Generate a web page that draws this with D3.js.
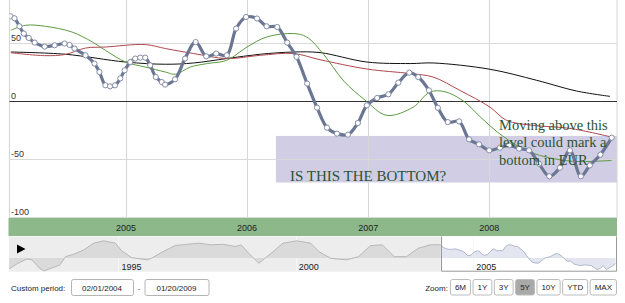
<!DOCTYPE html>
<html><head><meta charset="utf-8">
<script src="https://cdn.jsdelivr.net/npm/d3@7"></script>
<style>html,body{margin:0;padding:0;background:#fff;} svg{display:block;}</style>
</head><body>
<svg id="chart" width="625" height="303"></svg>
<script>
// ---------- DATA ----------
const mainDates = ["2004-01-19","2004-01-31","2004-02-15","2004-02-28","2004-03-14","2004-04-01","2004-05-01","2004-05-31","2004-06-30","2004-07-15","2004-07-30","2004-09-01","2004-09-28","2004-10-13","2004-10-31","2004-11-14","2004-11-29","2004-12-15","2004-12-28","2005-01-14","2005-01-29","2005-02-13","2005-02-28","2005-03-15","2005-04-01","2005-04-19","2005-04-29","2005-05-29","2005-06-28","2005-07-30","2005-08-31","2005-09-30","2005-11-01","2005-11-29","2005-12-29","2006-01-31","2006-03-01","2006-04-02","2006-05-02","2006-05-30","2006-07-01","2006-07-31","2006-08-30","2006-09-29","2006-11-01","2006-12-01","2006-12-28","2007-01-28","2007-03-03","2007-04-02","2007-05-05","2007-06-01","2007-07-03","2007-07-30","2007-08-29","2007-10-02","2007-11-01","2007-12-01","2008-01-01","2008-02-02","2008-03-01","2008-03-31","2008-04-30","2008-05-30","2008-06-30","2008-08-01","2008-08-31","2008-10-03","2008-10-30","2008-12-01","2009-01-04"];
const mainValues = [72.8,71.1,64.2,58.0,54.2,50.2,46.8,47.9,49.4,48.2,45.1,39.3,32.2,24.9,13.5,12.6,13.5,19.5,26.4,33.5,36.5,37.3,37.3,30.7,20.6,16.3,14.1,18.7,36.5,50.7,38.4,40.8,39.3,62.3,72.2,70.9,64.2,63.6,50.2,38.0,15.0,-5.7,-22.9,-28.0,-28.9,-18.9,-3.7,2.6,5.8,15.8,24.4,20.6,9.2,-5.8,-18.1,-17.5,-32.9,-37.2,-42.4,-40.1,-38.1,-40.9,-42.4,-53.8,-64.7,-57.3,-42.4,-64.7,-55.3,-46.1,-31.5];

const shortMADates = ["2004-01-20","2004-03-05","2004-05-03","2004-07-22","2004-09-22","2004-10-31","2004-12-31","2005-02-28","2005-04-30","2005-05-30","2005-07-14","2005-09-03","2005-11-01","2006-01-01","2006-03-01","2006-05-21","2006-06-30","2006-08-20","2006-10-20","2006-12-22","2007-02-26","2007-05-17","2007-07-06","2007-08-20","2007-10-15","2007-12-10","2008-02-10","2008-05-03","2008-08-31","2009-01-04"];
const shortMAValues = [60.8,65.1,64.2,59.3,50.7,43.6,33.5,29.2,24.9,23.0,29.2,32.2,35.0,46.4,55.0,58.0,55.0,40.0,17.0,1.0,-12.3,-5.2,7.7,8.0,0,-15,-30,-43.9,-51.6,-51.0];

const midMADates = ["2004-01-20","2004-05-01","2004-07-02","2004-09-01","2004-10-31","2005-02-28","2005-04-30","2005-07-24","2005-11-01","2006-02-10","2006-05-21","2006-08-09","2006-12-28","2007-05-08","2007-07-16","2007-10-04","2008-01-03","2008-02-22","2008-05-12","2008-08-31","2009-01-04"];
const midMAValues = [41.5,39.0,40.0,45.5,46.4,48.5,45.1,40.8,36.5,39.3,40.8,35.5,27.5,23.6,20.6,9.2,-5.2,-16.6,-20.9,-23.5,-31.0];

const longMADates = ["2004-01-20","2004-07-02","2004-12-31","2005-04-30","2005-07-24","2005-11-01","2006-02-10","2006-05-21","2006-08-09","2006-12-28","2007-05-08","2007-07-16","2008-01-03","2008-05-23","2008-09-20","2008-12-30"];
const longMAValues = [42.1,40.2,33.5,31.6,32.7,36.5,40.2,42.1,41.6,33.5,32.2,32.7,27.3,17.8,8.6,4.0];

// navigator history before the main window
const historyDates = ["1991-12-01","1992-03-01","1992-06-03","1992-07-24","1992-10-12","1992-11-25","1993-05-08","1993-07-05","1993-09-27","1994-01-08","1994-04-20","1994-07-31","1994-12-02","1995-02-03","1995-05-15","1995-10-27","1995-12-06","1996-04-05","1996-08-07","1996-12-09","1997-04-12","1997-08-11","1997-12-13","1998-04-16","1998-06-17","1998-09-05","1998-12-16","1999-04-20","1999-08-22","2000-01-12","2000-06-03","2000-08-26","2000-12-24","2001-06-07","2001-10-09","2002-02-07","2002-06-10","2002-10-12","2003-02-14","2003-06-14","2003-10-16"];
const historyValues = [-61,-30,-5.5,-11,-58,-72,-39,7,20,44,81,94,81,39,2,-11,-2,35,68,75,81,72,75,63,72,25,-30,25,81,94,81,35,-2,-11,7,68,72,7,7,53,72];

const yTicks = [-100, -50, 0, 50];
const xTickYears = [2005, 2006, 2007, 2008];
const navTickYears = [1995, 2000, 2005];
const bandStart = "2006-03-29";
const bandRange = [-70, -30];
const annotationMain = "IS THIS THE BOTTOM?";
const annotationNote = ["Moving above this", "level could mark a", "bottom in EUR"];
const customPeriodLabel = "Custom period:";
const customPeriod = ["02/01/2004", "01/20/2009"];
const zoomLabel = "Zoom:";
const zoomButtons = ["6M","1Y","3Y","5Y","10Y","YTD","MAX"];
const selectedZoom = "5Y";
const mainDomain = ["2004-01-16", "2009-01-20"];
const navDomain = ["1991-12-01", "2009-01-20"];
const navSelection = ["2004-02-01", "2009-01-20"];

// ---------- DRAW ----------
const parse = d3.timeParse("%Y-%m-%d");
const zip = (ds, vs) => ds.map((d, i) => ({date: parse(d), value: vs[i]}));
const mainData = zip(mainDates, mainValues);
const shortMA = zip(shortMADates, shortMAValues);
const midMA = zip(midMADates, midMAValues);
const longMA = zip(longMADates, longMAValues);
const navData = zip(historyDates, historyValues).concat(mainData);

const FONT = "Liberation Sans, Arial, sans-serif";
const SERIF = "Liberation Serif, Times New Roman, serif";
const plot = {left: 9.5, right: 617, top: 0, bottom: 218};

const svg = d3.select("#chart");
const x = d3.scaleTime().domain(mainDomain.map(parse)).range([plot.left, plot.right]);
const y = d3.scaleLinear().domain([-100.5, 86.8]).range([plot.bottom, plot.top]);

const defs = svg.append("defs");
defs.append("clipPath").attr("id", "plotClip").append("rect")
  .attr("x", plot.left).attr("y", plot.top)
  .attr("width", plot.right - plot.left).attr("height", plot.bottom - plot.top);

// band
svg.append("rect")
  .attr("x", x(parse(bandStart))).attr("y", y(bandRange[1]))
  .attr("width", plot.right - x(parse(bandStart)))
  .attr("height", y(bandRange[0]) - y(bandRange[1]))
  .attr("fill", "#a39bcb").attr("opacity", 0.5);

// vertical grid
const years = xTickYears.map(yv => new Date(yv, 0, 1));
svg.append("g").selectAll("line").data(years).join("line")
  .attr("x1", d => Math.round(x(d)) + 0.5).attr("x2", d => Math.round(x(d)) + 0.5)
  .attr("y1", plot.top).attr("y2", plot.bottom)
  .attr("stroke", "#d6d6d6").attr("stroke-width", 1);
// borders
svg.append("g").selectAll("line").data([plot.left, plot.right]).join("line")
  .attr("x1", d => d).attr("x2", d => d).attr("y1", plot.top).attr("y2", plot.bottom)
  .attr("stroke", "#d6d6d6");
// horizontal grid
svg.append("g").selectAll("line").data(yTicks.filter(v => v !== 0)).join("line")
  .attr("x1", plot.left).attr("x2", plot.right)
  .attr("y1", d => Math.round(y(d)) + 0.5).attr("y2", d => Math.round(y(d)) + 0.5)
  .attr("stroke", "#d9d9d9");
// zero line
svg.append("line").attr("x1", plot.left).attr("x2", plot.right)
  .attr("y1", Math.round(y(0)) + 0.5).attr("y2", Math.round(y(0)) + 0.5)
  .attr("stroke", "#333").attr("stroke-width", 1);

// y labels
svg.append("g").selectAll("text").data(yTicks).join("text")
  .attr("x", 11).attr("y", d => y(d) - 2)
  .attr("font-family", FONT).attr("font-size", 9).attr("fill", "#333")
  .text(d => d);

// series
const g = svg.append("g").attr("clip-path", "url(#plotClip)");
const smooth = d3.line().x(d => x(d.date)).y(d => y(d.value)).curve(d3.curveCatmullRom.alpha(0.5));
g.append("path").datum(longMA).attr("d", smooth).attr("fill", "none").attr("stroke", "#111").attr("stroke-width", 1);
g.append("path").datum(midMA).attr("d", smooth).attr("fill", "none").attr("stroke", "#b0474f").attr("stroke-width", 1);
g.append("path").datum(shortMA).attr("d", smooth).attr("fill", "none").attr("stroke", "#5c9a42").attr("stroke-width", 1);
g.append("path").datum(mainData).attr("d", smooth).attr("fill", "none").attr("stroke", "#6b7692").attr("stroke-width", 3.2).attr("stroke-linejoin", "round");
g.append("g").selectAll("circle").data(mainData).join("circle")
  .attr("cx", d => x(d.date)).attr("cy", d => y(d.value)).attr("r", 2.6)
  .attr("fill", "#fff").attr("stroke", "#858ea6").attr("stroke-width", 1);

// annotations
svg.append("text").attr("x", x(parse(bandStart)) + 14).attr("y", 181)
  .attr("font-family", SERIF).attr("font-size", 15).attr("fill", "#2a5434")
  .text(annotationMain);
svg.append("g").selectAll("text").data(annotationNote).join("text")
  .attr("x", 499).attr("y", (d, i) => 130 + i * 17.3)
  .attr("font-family", SERIF).attr("font-size", 14.5).attr("fill", "#2a5434")
  .text(d => d);

// green axis bar
svg.append("rect").attr("x", 8.5).attr("y", plot.bottom).attr("width", plot.right - 8.5).attr("height", 18)
  .attr("fill", "#8cb88a");
svg.append("g").selectAll("text").data(years).join("text")
  .attr("x", d => x(d)).attr("y", 231).attr("text-anchor", "middle")
  .attr("font-family", FONT).attr("font-size", 9).attr("fill", "#222")
  .text(d3.timeFormat("%Y"));

// navigator
const nav = {top: 236.5, bottom: 271.7, left: 9, right: 617};
const nx = d3.scaleTime().domain(navDomain.map(parse)).range([nav.left, nav.right]);
const ny = d3.scaleLinear().domain([-76, 118]).range([nav.bottom, nav.top]);
const selX = nx(parse(navSelection[0]));
defs.append("clipPath").attr("id", "navLeft").append("rect")
  .attr("x", nav.left).attr("y", nav.top).attr("width", selX - nav.left).attr("height", nav.bottom - nav.top);
defs.append("clipPath").attr("id", "navRight").append("rect")
  .attr("x", selX).attr("y", nav.top).attr("width", nav.right - selX).attr("height", nav.bottom - nav.top);

svg.append("rect").attr("x", nav.left).attr("y", nav.top).attr("width", selX - nav.left).attr("height", nav.bottom - nav.top)
  .attr("fill", "#ededed");
svg.append("g").selectAll("line").data(navTickYears).join("line")
  .attr("x1", d => Math.round(nx(new Date(d, 0, 1))) + 0.5).attr("x2", d => Math.round(nx(new Date(d, 0, 1))) + 0.5)
  .attr("y1", nav.top).attr("y2", nav.bottom).attr("stroke", "#f7f7f7");
const navArea = d3.area().x(d => nx(d.date)).y0(ny(0)).y1(d => ny(d.value));
const navLine = d3.line().x(d => nx(d.date)).y(d => ny(d.value));
const gl = svg.append("g").attr("clip-path", "url(#navLeft)");
gl.append("path").datum(navData).attr("d", navArea).attr("fill", "#dadada");
gl.append("path").datum(navData).attr("d", navLine).attr("fill", "none").attr("stroke", "#b8b8b8").attr("stroke-width", 1);
const gr = svg.append("g").attr("clip-path", "url(#navRight)");
gr.append("path").datum(navData).attr("d", navArea).attr("fill", "#e3e6f1");
gr.append("path").datum(navData).attr("d", navLine).attr("fill", "none").attr("stroke", "#aeb5cb").attr("stroke-width", 1);
svg.append("path")
  .attr("d", `M${Math.round(selX) + 0.5},${nav.top} V${nav.bottom - 0.5} H${nav.right - 0.5} V${nav.top}`)
  .attr("fill", "none").attr("stroke", "#999");
svg.append("g").selectAll("text").data(navTickYears).join("text")
  .attr("x", d => nx(new Date(d, 0, 1)) + 3).attr("y", 269.5)
  .attr("font-family", FONT).attr("font-size", 9).attr("fill", "#222")
  .text(d => d);
svg.append("path").attr("d", "M17,244.5 L17,253.5 L25.5,249 Z").attr("fill", "#000");

// bottom controls
svg.append("text").attr("x", 11).attr("y", 290.5).attr("font-family", FONT).attr("font-size", 8).attr("fill", "#222")
  .text(customPeriodLabel);
const boxes = [{x: 71, w: 62, t: customPeriod[0]}, {x: 144.5, w: 64, t: customPeriod[1]}];
const bg = svg.append("g").selectAll("g").data(boxes).join("g");
bg.append("rect").attr("x", d => d.x + 0.5).attr("y", 279.5).attr("width", d => d.w).attr("height", 16).attr("rx", 2)
  .attr("fill", "#fff").attr("stroke", "#b5b5b5");
bg.append("text").attr("x", d => d.x + d.w / 2).attr("y", 290.5).attr("text-anchor", "middle")
  .attr("font-family", FONT).attr("font-size", 8).attr("fill", "#222").text(d => d.t);
svg.append("text").attr("x", 139).attr("y", 290.5).attr("text-anchor", "middle")
  .attr("font-family", FONT).attr("font-size", 8).attr("fill", "#555").text("-");

// zoom buttons laid out from the right
const btnG = svg.append("g");
const tmp = btnG.append("text").attr("font-family", FONT).attr("font-size", 8);
const widths = zoomButtons.map(t => { tmp.text(t); return tmp.node().getComputedTextLength() + 9; });
tmp.remove();
let cx = 616;
const btns = [];
for (let i = zoomButtons.length - 1; i >= 0; i--) {
  cx -= widths[i];
  btns.unshift({t: zoomButtons[i], x: cx, w: widths[i]});
  cx -= 2.5;
}
const bb = btnG.selectAll("g").data(btns).join("g");
bb.append("rect").attr("x", d => d.x + 0.5).attr("y", 279.5).attr("width", d => d.w).attr("height", 15.5).attr("rx", 2)
  .attr("fill", d => d.t === selectedZoom ? "#a9a9a9" : "#fff").attr("stroke", "#bbb");
bb.append("text").attr("x", d => d.x + d.w / 2 + 0.5).attr("y", 290.3).attr("text-anchor", "middle")
  .attr("font-family", FONT).attr("font-size", 8).attr("fill", "#222").text(d => d.t);
svg.append("text").attr("x", btns[0].x - 2).attr("y", 290.5).attr("text-anchor", "end")
  .attr("font-family", FONT).attr("font-size", 8).attr("fill", "#222").text(zoomLabel);
</script>
</body></html>
